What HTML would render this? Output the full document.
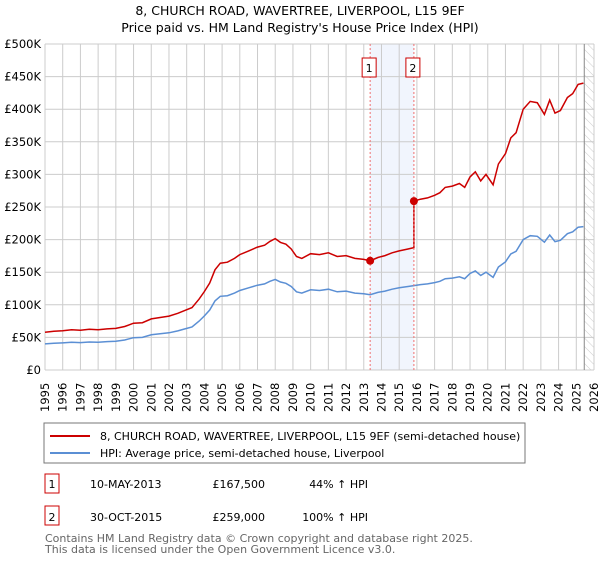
<!DOCTYPE html>
<html><head><meta charset="utf-8"><style>
body{margin:0;background:#fff;font-family:"Liberation Sans","DejaVu Sans",sans-serif;}
svg text{font-family:"DejaVu Sans","Liberation Sans",sans-serif;}
</style></head><body>
<svg id="c" width="600" height="560" viewBox="0 0 600 560" xmlns="http://www.w3.org/2000/svg">
<defs><pattern id="hatch" width="6" height="6" patternUnits="userSpaceOnUse" patternTransform="rotate(-45)"><line x1="0" y1="0" x2="0" y2="6" stroke="#ccc" stroke-width="1"/></pattern></defs>
<text x="300" y="15" text-anchor="middle" font-size="12.5" fill="#000">8, CHURCH ROAD, WAVERTREE, LIVERPOOL, L15 9EF</text>
<text x="300" y="32" text-anchor="middle" font-size="12.5" fill="#000">Price paid vs. HM Land Registry's House Price Index (HPI)</text>
<g id="grid"></g><g id="marks"></g><g id="axes"></g>
<rect x="44" y="423" width="481" height="40" fill="#fff" stroke="#777"/>
<line x1="50" y1="436" x2="90" y2="436" stroke="#cc0000" stroke-width="2"/>
<text x="100" y="440" font-size="11">8, CHURCH ROAD, WAVERTREE, LIVERPOOL, L15 9EF (semi-detached house)</text>
<line x1="50" y1="453" x2="90" y2="453" stroke="#5b8fd4" stroke-width="2"/>
<text x="100" y="457" font-size="11">HPI: Average price, semi-detached house, Liverpool</text>
<g font-size="11">
<rect x="45" y="474" width="14" height="19" fill="#fff" stroke="#cc0000"/><text x="52" y="488" text-anchor="middle">1</text>
<text x="90" y="488">10-MAY-2013</text><text x="265" y="488" text-anchor="end">£167,500</text><text x="368" y="488" text-anchor="end">44% ↑ HPI</text></g>
<g font-size="11">
<rect x="45" y="506" width="14" height="19" fill="#fff" stroke="#cc0000"/><text x="52" y="521" text-anchor="middle">2</text>
<text x="90" y="521">30-OCT-2015</text><text x="265" y="521" text-anchor="end">£259,000</text><text x="368" y="521" text-anchor="end">100% ↑ HPI</text></g>
<text x="45" y="542" font-size="11" fill="#666">Contains HM Land Registry data © Crown copyright and database right 2025.</text>
<text x="45" y="553" font-size="11" fill="#666">This data is licensed under the Open Government Licence v3.0.</text>
</svg>
<script>
const hpiDates=[1995,1995.5,1996,1996.5,1997,1997.5,1998,1998.5,1999,1999.5,2000,2000.5,2001,2001.5,2002,2002.5,2002.9,2003.3,2003.7,2004,2004.3,2004.6,2004.9,2005.3,2005.7,2006,2006.5,2007,2007.4,2007.7,2008,2008.3,2008.6,2008.9,2009.2,2009.5,2010,2010.5,2011,2011.5,2012,2012.5,2013,2013.36,2013.8,2014.2,2014.6,2015,2015.5,2015.83,2016.2,2016.6,2017,2017.3,2017.6,2018,2018.4,2018.7,2019,2019.3,2019.6,2019.9,2020.3,2020.6,2021,2021.3,2021.6,2022,2022.4,2022.8,2023.2,2023.5,2023.8,2024.1,2024.5,2024.8,2025.1,2025.4];
const hpiValues=[40000,41000,41500,42500,42000,43000,42500,43500,44000,46000,49500,50000,54000,55500,57000,60000,63000,66000,75000,83000,92000,106000,113000,114000,118000,122000,126000,130000,132000,136000,139000,135000,133000,128000,120000,118000,123000,122000,124000,120000,121000,118000,117000,115500,119000,121000,124000,126000,128000,129500,131000,132000,134000,136000,140000,141000,143000,140000,148000,152000,145000,150000,142000,158000,166000,178000,182000,200000,206000,205000,196000,207000,197000,199000,209000,212000,219000,220000];
const yTicks=[0,50000,100000,150000,200000,250000,300000,350000,400000,450000,500000];
const yTickLabels=["£0","£50K","£100K","£150K","£200K","£250K","£300K","£350K","£400K","£450K","£500K"];
const xTicks=[1995,1996,1997,1998,1999,2000,2001,2002,2003,2004,2005,2006,2007,2008,2009,2010,2011,2012,2013,2014,2015,2016,2017,2018,2019,2020,2021,2022,2023,2024,2025,2026];
const saleDates=[2013.36,2015.83];
const salePrices=[167500,259000];
const saleLabels=["1","2"];
const NS="http://www.w3.org/2000/svg";
const X0=45,X1=594,Y0=370,Y1=44;
const xs=t=>X0+(t-1995)/(2026-1995)*(X1-X0);
const ys=v=>Y0-v/500000*(Y0-Y1);
function mk(tag,attrs,parent){const e=document.createElementNS(NS,tag);for(const k in attrs)e.setAttribute(k,attrs[k]);parent.appendChild(e);return e;}
const grid=document.getElementById('grid'),marks=document.getElementById('marks'),axes=document.getElementById('axes');
function interp(t){for(let i=0;i<hpiDates.length-1;i++){if(t>=hpiDates[i]&&t<=hpiDates[i+1]){const f=(t-hpiDates[i])/(hpiDates[i+1]-hpiDates[i]);return hpiValues[i]+f*(hpiValues[i+1]-hpiValues[i]);}}return hpiValues[hpiValues.length-1];}
// shaded band between sales
let band=mk('rect',{x:xs(saleDates[0]),y:Y1,width:xs(saleDates[1])-xs(saleDates[0]),height:Y0-Y1,fill:'#eef3fc',opacity:0.8},grid);


yTicks.forEach((v,i)=>{
 let l=mk('line',{x1:X0,x2:X1,y1:ys(v),y2:ys(v),stroke:'#ccc','stroke-width':1},grid);
 
 
 let t=mk('text',{x:X0-4,y:ys(v)+4,'text-anchor':'end','font-size':11.5},axes);
 
 
 t.textContent=yTickLabels[i];
});
xTicks.forEach(yr=>{
 let l=mk('line',{x1:xs(yr),x2:xs(yr),y1:Y1,y2:Y0,stroke:'#ccc','stroke-width':1},grid);
 
 
 let t=mk('text',{x:0,y:0,'font-size':11.5,transform:`translate(${xs(yr)+4},412) rotate(-90)`},axes);
 
 
 t.textContent=yr;
});
let hb=mk('rect',{x:xs(2025.45),y:Y1,width:X1-xs(2025.45),height:Y0-Y1,fill:'url(#hatch)'},grid);


mk('line',{x1:xs(2025.45),x2:xs(2025.45),y1:Y1,y2:Y0,stroke:'#888'},grid);
// HPI line
let d='';hpiDates.forEach((t,i)=>{d+=(i?'L':'M')+xs(t).toFixed(1)+','+ys(hpiValues[i]).toFixed(1);});
let hl=mk('path',{d:d,fill:'none',stroke:'#5b8fd4','stroke-width':1.5},marks);


// property line: HPI scaled to sale prices
const k1=salePrices[0]/interp(saleDates[0]),k2=salePrices[1]/interp(saleDates[1]);
let pd='';let first=true;
hpiDates.forEach((t,i)=>{if(t<saleDates[1]){pd+=(first?'M':'L')+xs(t).toFixed(1)+','+ys(hpiValues[i]*k1).toFixed(1);first=false;}});
pd+='L'+xs(saleDates[1]).toFixed(1)+','+ys(interp(saleDates[1])*k1).toFixed(1);
pd+='L'+xs(saleDates[1]).toFixed(1)+','+ys(salePrices[1]).toFixed(1);
hpiDates.forEach((t,i)=>{if(t>saleDates[1])pd+='L'+xs(t).toFixed(1)+','+ys(hpiValues[i]*k2).toFixed(1);});
let pl=mk('path',{d:pd,fill:'none',stroke:'#cc0000','stroke-width':1.5},marks);


saleDates.forEach((t,i)=>{
 let vl=mk('line',{x1:xs(t),x2:xs(t),y1:Y1,y2:Y0,stroke:'#f07070','stroke-dasharray':'2,2','stroke-width':1},marks);
 
 
 let c=mk('circle',{cx:xs(t),cy:ys(salePrices[i]),r:4,fill:'#cc0000'},marks);
 
 
 let b=mk('rect',{x:xs(t)-8,y:58,width:14,height:19,fill:'#fff',stroke:'#cc0000'},marks);
 
 
 let tx=mk('text',{x:xs(t)-1,y:72,'text-anchor':'middle','font-size':11},marks);
 
 
 tx.textContent=saleLabels[i];
});
</script>
</body></html>
